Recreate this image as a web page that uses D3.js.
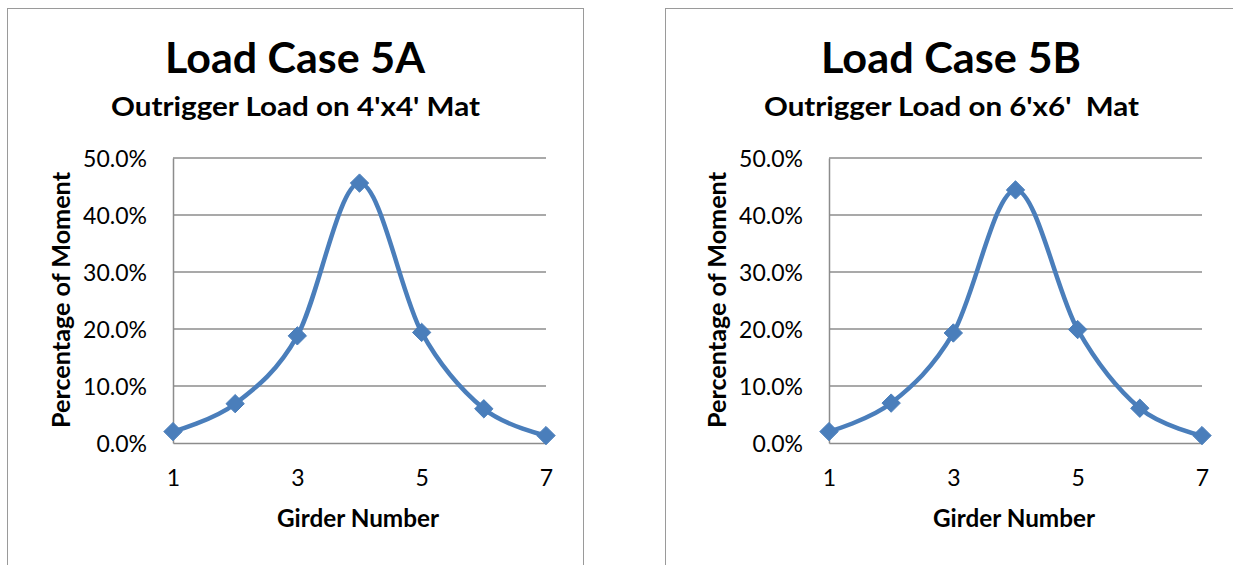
<!DOCTYPE html>
<html>
<head>
<meta charset="utf-8">
<script src="https://cdn.jsdelivr.net/npm/d3@7"></script>
<style>
  html, body { margin: 0; padding: 0; background: #fff; }
  svg { display: block; }
  text { font-family: Lato, "Open Sans", sans-serif; fill: #000; white-space: pre; }
</style>
</head>
<body>
<svg id="chart" width="1233" height="565"></svg>
<script>
// ---- data ----
const girders = [1, 2, 3, 4, 5, 6, 7];
const valuesA = [0.020, 0.069, 0.188, 0.456, 0.194, 0.060, 0.013];
const valuesB = [0.020, 0.070, 0.193, 0.444, 0.199, 0.061, 0.013];
const titles = ["Load Case 5A", "Load Case 5B"];
const subtitles = ["Outrigger Load on 4'x4' Mat", "Outrigger Load on 6'x6'  Mat"];
const yTicks = [0, 0.1, 0.2, 0.3, 0.4, 0.5];
const xTicks = [1, 3, 5, 7];
const yTitle = "Percentage of Moment";
const xTitle = "Girder Number";

const svg = d3.select("#chart");
const lineColor = "#4A7EBB";

function fitTo(sel, width) {
  sel.attr("textLength", width).attr("lengthAdjust", "spacingAndGlyphs");
}

function drawPanel(frameX, frameW, plotLeft, values, title, subtitle, subW) {
  const g = svg.append("g");
  g.append("rect").attr("x", frameX + 0.5).attr("y", 8.5)
    .attr("width", frameW).attr("height", 600)
    .attr("fill", "none").attr("stroke", "#9a9a9a").attr("stroke-width", 1);

  const plotW = 373, top = 158, bottom = 443;
  const x = d3.scaleLinear().domain([1, 7]).range([plotLeft, plotLeft + plotW]);
  const y = d3.scaleLinear().domain([0, 0.5]).range([bottom, top]);

  g.append("g").selectAll("line").data(yTicks.filter(t => t > 0)).join("line")
    .attr("x1", plotLeft).attr("x2", plotLeft + plotW)
    .attr("y1", d => y(d)).attr("y2", d => y(d))
    .attr("stroke", "#8c8c8c").attr("stroke-width", 1.3);

  const yAxis = d3.axisLeft(y).tickValues(yTicks).tickSize(0).tickPadding(26)
    .tickFormat(d => (d * 100).toFixed(1) + "%");
  const ya = g.append("g").attr("transform", `translate(${plotLeft},0)`).call(yAxis);
  ya.select(".domain").attr("stroke", "#8c8c8c").attr("stroke-width", 1.5);
  ya.selectAll("text").style("font-size", "23px").style("font-family", "Lato, sans-serif")
    .attr("fill", "#000").attr("dy", "0.38em");

  const xAxis = d3.axisBottom(x).tickValues(xTicks).tickSize(0)
    .tickFormat(d3.format("d"));
  const xa = g.append("g").attr("transform", `translate(0,${bottom})`).call(xAxis);
  xa.select(".domain").attr("stroke", "#8c8c8c").attr("stroke-width", 1.5);
  xa.selectAll("text").style("font-size", "23px").style("font-family", "Lato, sans-serif")
    .attr("fill", "#000").attr("y", 43).attr("dy", "0");

  const pts = girders.map((gd, i) => [gd, values[i]]);
  const line = d3.line().x(d => x(d[0])).y(d => y(d[1])).curve(d3.curveCardinal.tension(0));
  g.append("path").datum(pts).attr("d", line)
    .attr("fill", "none").attr("stroke", lineColor).attr("stroke-width", 4.5)
    .attr("stroke-linejoin", "round").attr("stroke-linecap", "round");

  const diamond = d3.symbol().type(d3.symbolDiamond2).size(215);
  g.append("g").selectAll("path").data(pts).join("path")
    .attr("transform", d => `translate(${x(d[0])},${y(d[1])})`)
    .attr("d", diamond).attr("fill", lineColor).attr("stroke", lineColor).attr("stroke-width", 1);

  const cx = plotLeft + 122;
  const t = g.append("text").attr("x", cx).attr("y", 73).attr("text-anchor", "middle")
    .style("font-size", "42px").style("font-weight", "bold").text(title);
  fitTo(t, 260);
  const s = g.append("text").attr("x", cx + 0.5).attr("y", 116).attr("text-anchor", "middle")
    .style("font-size", "27px").style("font-weight", "bold").text(subtitle);
  fitTo(s, subW);

  const yt = g.append("text").attr("transform", `translate(${plotLeft - 112},${300}) rotate(-90)`)
    .attr("text-anchor", "middle").attr("dy", "0.36em")
    .style("font-size", "24px").style("font-weight", "bold").text(yTitle);
  fitTo(yt, 256);
  const xt = g.append("text").attr("x", plotLeft + 185).attr("y", 527).attr("text-anchor", "middle")
    .style("font-size", "25px").style("font-weight", "bold").text(xTitle);
  fitTo(xt, 162);
}

drawPanel(7, 576, 173, valuesA, titles[0], subtitles[0], 369);
drawPanel(665, 600, 829, valuesB, titles[1], subtitles[1], 375);
</script>
</body>
</html>
